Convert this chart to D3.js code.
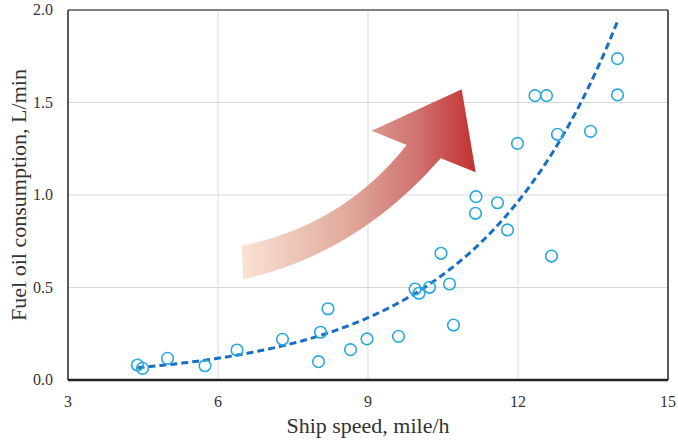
<!DOCTYPE html>
<html>
<head>
<meta charset="utf-8">
<script src="https://cdn.jsdelivr.net/npm/d3@7"></script>
<style>
  body { margin: 0; background: #fff; }
  text { font-family: "Liberation Serif", "Times New Roman", serif; fill: #333; }
</style>
</head>
<body>
<div id="chart"></div>
<script>
// ship speed (mile/h) vs fuel oil consumption (L/min)
var speed = [4.39, 4.49, 4.99, 5.74, 6.38, 7.29, 8.01, 8.05, 8.2, 8.65, 8.98, 9.61,
    9.94, 10.02, 10.23, 10.46, 10.63, 10.71, 11.16, 11.15, 11.59, 11.79, 11.99,
    12.34, 12.57, 12.67, 12.79, 13.45, 13.99, 13.99];
var fuel = [0.081, 0.063, 0.117, 0.077, 0.162, 0.22, 0.099, 0.258, 0.385, 0.164, 0.222, 0.236,
    0.492, 0.469, 0.501, 0.685, 0.519, 0.297, 0.991, 0.901, 0.958, 0.811, 1.279,
    1.537, 1.537, 0.670, 1.328, 1.344, 1.737, 1.541];
var xTicks = [3, 6, 9, 12, 15];
var yTicks = [0, 0.5, 1.0, 1.5, 2.0];
// exponential trendline y = a*e^(b*x)
var trendA = 0.01429, trendB = 0.351;

var margin = { top: 10, right: 10, bottom: 61, left: 68 },
    width = 678 - margin.left - margin.right,
    height = 441 - margin.top - margin.bottom;

var svg = d3.select("#chart")
    .append("svg")
    .attr("width", 678)
    .attr("height", 441);

var g = svg.append("g")
    .attr("transform", "translate(" + margin.left + "," + margin.top + ")");

var x = d3.scaleLinear().domain([3, 15]).range([0, width]);
var y = d3.scaleLinear().domain([0, 2]).range([height, 0]);

// gridlines
g.selectAll(".vgrid")
    .data(xTicks.slice(1, -1))
    .enter()
    .append("line")
    .attr("x1", function (d) { return x(d) })
    .attr("x2", function (d) { return x(d) })
    .attr("y1", 0)
    .attr("y2", height)
    .attr("stroke", "#d9d9d9")
    .attr("stroke-width", 1);

g.selectAll(".hgrid")
    .data(yTicks.slice(1, -1))
    .enter()
    .append("line")
    .attr("x1", 0)
    .attr("x2", width)
    .attr("y1", function (d) { return y(d) })
    .attr("y2", function (d) { return y(d) })
    .attr("stroke", "#d9d9d9")
    .attr("stroke-width", 1);

// curved gradient arrow
var defs = svg.append("defs");
var grad = defs.append("linearGradient")
    .attr("id", "arrowGrad")
    .attr("gradientUnits", "userSpaceOnUse")
    .attr("x1", 241).attr("y1", 0)
    .attr("x2", 476).attr("y2", 0);
grad.append("stop").attr("offset", "0%").attr("stop-color", "#fae3d5");
grad.append("stop").attr("offset", "45%").attr("stop-color", "#e0aa9c");
grad.append("stop").attr("offset", "75%").attr("stop-color", "#d07272");
grad.append("stop").attr("offset", "100%").attr("stop-color", "#c0302e");

svg.append("path")
    .attr("d", "M241.7,245.7 Q343,225.4 406.7,145 L371.7,130.7 L461.7,89.3 L475.7,172.3 L440.7,158.3 Q357,254.2 243.3,279.3 Z")
    .attr("fill", "url(#arrowGrad)");

// trendline over the data range
var xs = d3.range(d3.min(speed), d3.max(speed) + 0.001, 0.05);

g.append("path")
    .datum(xs)
    .attr("fill", "none")
    .attr("stroke", "#1a6fc0")
    .attr("stroke-width", 3)
    .attr("stroke-dasharray", "7,4")
    .attr("d", d3.line()
        .x(function (d) { return x(d) })
        .y(function (d) { return y(trendA * Math.exp(trendB * d)) })
    );

// points
g.selectAll(".dot")
    .data(speed)
    .enter()
    .append("circle")
    .attr("cx", function (d) { return x(d) })
    .attr("cy", function (d, i) { return y(fuel[i]) })
    .attr("r", 5.8)
    .attr("fill", "none")
    .attr("stroke", "#29a8e0")
    .attr("stroke-width", 1.6);

// frame
g.append("line").attr("x1", 0).attr("x2", width).attr("y1", 0).attr("y2", 0)
    .attr("stroke", "#808080").attr("stroke-width", 2);
g.append("line").attr("x1", width).attr("x2", width).attr("y1", 0).attr("y2", height)
    .attr("stroke", "#222").attr("stroke-width", 1.5);
g.append("line").attr("x1", 0).attr("x2", 0).attr("y1", 0).attr("y2", height)
    .attr("stroke", "#222").attr("stroke-width", 1.5);
g.append("line").attr("x1", 0).attr("x2", width).attr("y1", height).attr("y2", height)
    .attr("stroke", "#222").attr("stroke-width", 2.5);

// tick labels
g.selectAll(".xlab")
    .data(xTicks)
    .enter()
    .append("text")
    .attr("x", function (d) { return x(d) })
    .attr("y", height + 27)
    .attr("text-anchor", "middle")
    .style("font-size", "16px")
    .text(function (d) { return d });

g.selectAll(".ylab")
    .data(yTicks)
    .enter()
    .append("text")
    .attr("x", -15)
    .attr("y", function (d) { return y(d) + 5 })
    .attr("text-anchor", "end")
    .style("font-size", "16px")
    .text(function (d) { return d.toFixed(1) });

// axis titles
svg.append("text")
    .attr("x", margin.left + x(9))
    .attr("y", 433)
    .attr("text-anchor", "middle")
    .style("font-size", "22px")
    .text("Ship speed, mile/h");

svg.append("text")
    .attr("transform", "translate(26," + (margin.top + height / 2) + ") rotate(-90)")
    .attr("text-anchor", "middle")
    .style("font-size", "22px")
    .text("Fuel oil consumption, L/min");
</script>
</body>
</html>
